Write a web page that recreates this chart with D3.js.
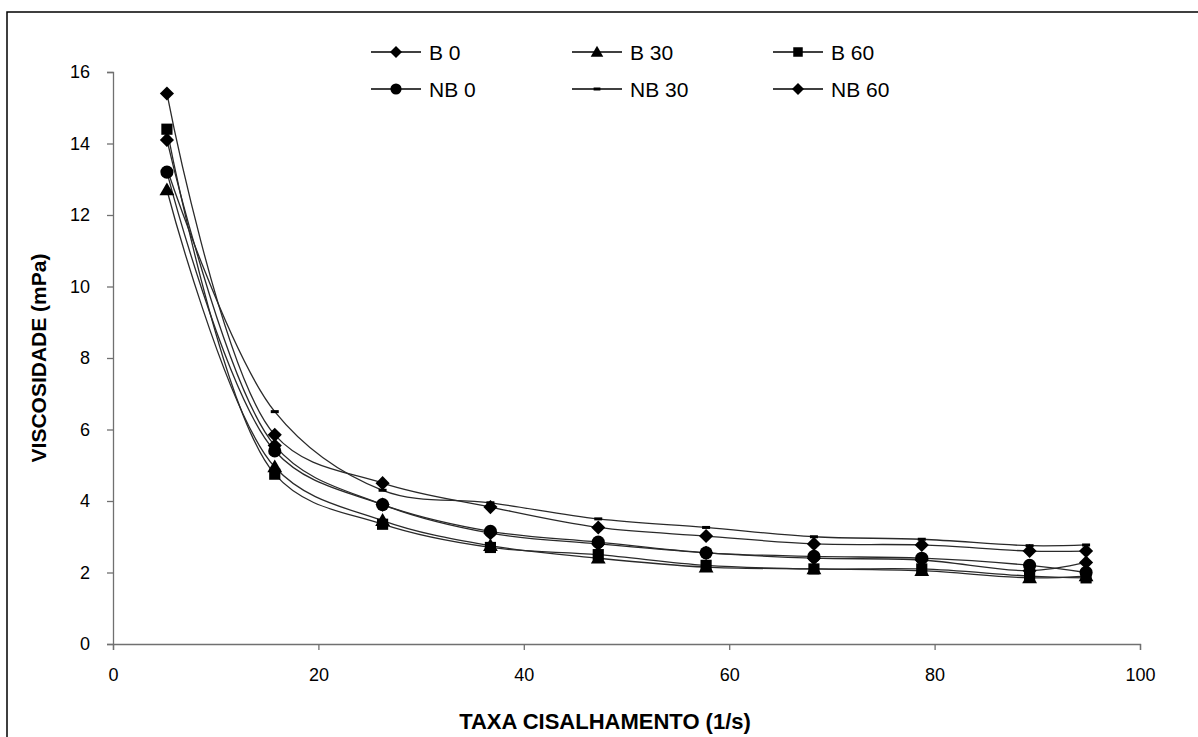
<!DOCTYPE html>
<html>
<head>
<meta charset="utf-8">
<script src="https://cdn.jsdelivr.net/npm/d3@7"></script>
<style>
  body { margin: 0; background: #fff; }
  svg { display: block; font-family: "Liberation Sans", Arial, sans-serif; }
</style>
</head>
<body>
<div id="chart"></div>
<script>
// ------------------------------------------------------------
// Data
// ------------------------------------------------------------
const shearRate = [5.25, 15.75, 26.25, 36.75, 47.25, 57.75, 68.25, 78.75, 89.25, 94.75];

const b0   = [15.4, 5.85, 4.5, 3.83, 3.26, 3.02, 2.8, 2.77, 2.6, 2.6];
const b30  = [12.7, 4.95, 3.45, 2.75, 2.4, 2.15, 2.1, 2.05, 1.85, 1.9];
const b60  = [14.4, 4.75, 3.35, 2.7, 2.5, 2.2, 2.1, 2.1, 1.9, 1.85];
const nb0  = [13.2, 5.4, 3.9, 3.15, 2.85, 2.55, 2.45, 2.4, 2.2, 2.0];
const nb30 = [13.3, 6.5, 4.3, 3.95, 3.5, 3.26, 3.0, 2.93, 2.75, 2.77];
const nb60 = [14.1, 5.55, 3.9, 3.1, 2.8, 2.55, 2.4, 2.35, 2.05, 2.28];

const seriesNames = ["B 0", "B 30", "B 60", "NB 0", "NB 30", "NB 60"];
const seriesValues = [b0, b30, b60, nb0, nb30, nb60];
const seriesMarkers = ["diamond", "triangle", "square", "circle", "dash", "diamond"];

const xTicks = [0, 20, 40, 60, 80, 100];
const yTicks = [0, 2, 4, 6, 8, 10, 12, 14, 16];

// ------------------------------------------------------------
// Chart
// ------------------------------------------------------------
const width = 1198, height = 737;

const svg = d3.select("#chart")
    .append("svg")
    .attr("width", width)
    .attr("height", height);

// outer frame (only left and top are inside the picture)
svg.append("rect")
    .attr("x", 7).attr("y", 12)
    .attr("width", width + 20).attr("height", height + 20)
    .attr("fill", "none")
    .attr("stroke", "#000")
    .attr("stroke-width", 1.5);

const x = d3.scaleLinear().domain([0, 100]).range([113, 1140]);
const y = d3.scaleLinear().domain([0, 16]).range([644, 72]);

// axes
const xAxis = svg.append("g")
    .attr("transform", `translate(0,${y(0)})`)
    .call(d3.axisBottom(x).tickValues(xTicks).tickSize(6).tickPadding(18));

const yAxis = svg.append("g")
    .attr("transform", `translate(${x(0)},0)`)
    .call(d3.axisLeft(y).tickValues(yTicks).tickSize(6).tickPadding(17));

[xAxis, yAxis].forEach(g => {
    g.select(".domain").attr("stroke", "#707070").attr("stroke-width", 1.3);
    g.selectAll(".tick line").attr("stroke", "#707070").attr("stroke-width", 1.3);
    g.selectAll(".tick text")
        .attr("font-size", "18px")
        .attr("font-family", "Liberation Sans, Arial, sans-serif")
        .attr("fill", "#000");
});

// axis titles
svg.append("text")
    .attr("x", 605).attr("y", 729)
    .attr("text-anchor", "middle")
    .attr("font-size", "22px")
    .attr("font-weight", "bold")
    .text("TAXA CISALHAMENTO (1/s)");

svg.append("text")
    .attr("transform", "translate(46,358) rotate(-90)")
    .attr("text-anchor", "middle")
    .attr("font-size", "21px")
    .attr("font-weight", "bold")
    .text("VISCOSIDADE (mPa)");

// markers
function drawMarker(g, type, scale) {
    const s = scale || 1;
    if (type === "diamond") {
        g.append("path")
            .attr("d", d3.symbol(d3.symbolSquare, 100 * s * s)())
            .attr("transform", "rotate(45)");
    } else if (type === "triangle") {
        g.append("path")
            .attr("d", d3.symbol(d3.symbolTriangle, 95 * s * s)())
            .attr("transform", "translate(0,1)");
    } else if (type === "square") {
        g.append("path").attr("d", d3.symbol(d3.symbolSquare, 125 * s * s)());
    } else if (type === "circle") {
        g.append("path").attr("d", d3.symbol(d3.symbolCircle, 135 * s * s)());
    } else if (type === "dash") {
        g.append("rect")
            .attr("x", -4 * s).attr("y", -1.5)
            .attr("width", 8 * s).attr("height", 3);
    }
    g.attr("fill", "#000");
}

const line = d3.line()
    .x((d, i) => x(shearRate[i]))
    .y(d => y(d))
    .curve(d3.curveCatmullRom.alpha(0.5));

// curves first, then markers on top
seriesValues.forEach(vals => {
    svg.append("path")
        .datum(vals)
        .attr("d", line)
        .attr("fill", "none")
        .attr("stroke", "#2a2a2a")
        .attr("stroke-width", 1.3);
});

seriesValues.forEach((vals, k) => {
    vals.forEach((v, i) => {
        const g = svg.append("g")
            .attr("transform", `translate(${x(shearRate[i])},${y(v)})`);
        drawMarker(g, seriesMarkers[k]);
    });
});

// legend
const legendX = [371, 572, 773];
const legendY = [52, 89];

seriesNames.forEach((name, k) => {
    const col = k % 3, row = Math.floor(k / 3);
    const lg = svg.append("g")
        .attr("transform", `translate(${legendX[col]},${legendY[row]})`);
    lg.append("line")
        .attr("x1", 0).attr("x2", 50)
        .attr("stroke", "#000").attr("stroke-width", 1.3);
    const m = lg.append("g").attr("transform", "translate(25,0)");
    drawMarker(m, seriesMarkers[k], 0.85);
    lg.append("text")
        .attr("x", 58).attr("y", 8)
        .attr("font-size", "21px")
        .text(name);
});
</script>
</body>
</html>
